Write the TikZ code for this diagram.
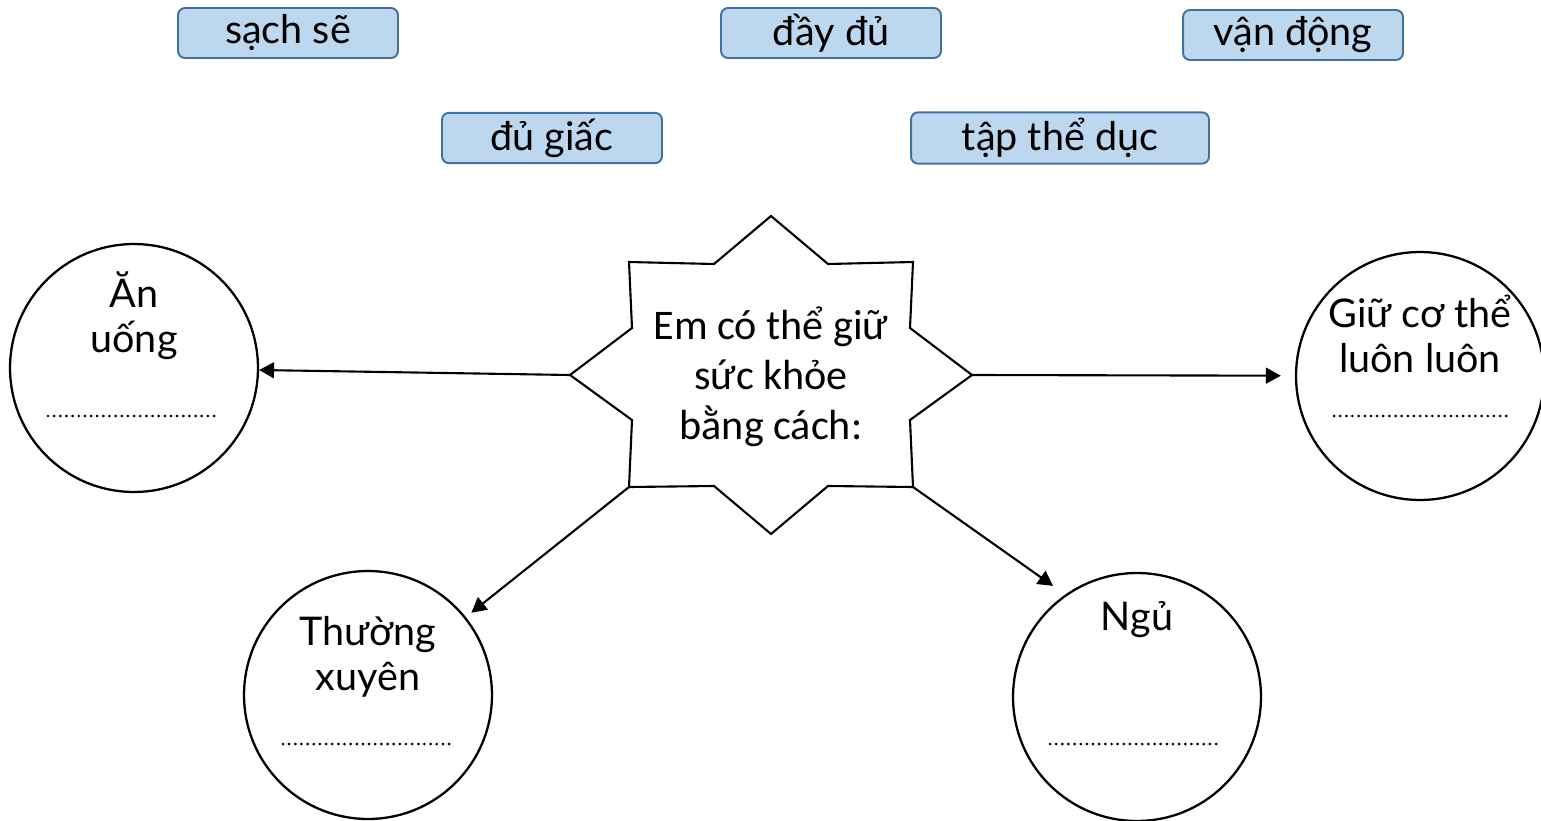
\documentclass[tikz,border=0pt]{standalone}
\usepackage{fontspec}
\setmainfont{Lato}
\newfontfamily\calibri{Carlito}
\usetikzlibrary{arrows.meta, positioning}
\definecolor{boxfill}{HTML}{BDD7EE}
\definecolor{boxline}{HTML}{41719C}

\begin{document}
\begin{tikzpicture}[x=0.02cm, y=-0.02cm, >={Triangle[length=8.5pt,width=9pt]},
      word/.style={draw=boxline, fill=boxfill, line width=1.1pt, rounded corners=4pt,
        minimum width=4.4cm, minimum height=1cm, font=\fontsize{22.5}{26}\selectfont},
      idea/.style={circle, draw, line width=1.3pt, minimum size=4.96cm},
      note/.style={align=center, font=\fontsize{22.5}{25.5}\selectfont},
      dots/.style={line width=1.7pt, line cap=round, dash pattern=on 0pt off 3.5pt}]
      \useasboundingbox (0,0) rectangle (1541,821);
      % word bank
      \node[word] (sach) at (288,33) {sạch sẽ};
      \node[word] (day)  at (831,33) {đầy đủ};
      \node[word] (van)  at (1293,35) {vận động};
      \node[word] (du)   at (552,138) {đủ giấc};
      \node[word, minimum width=5.96cm] (tap) at (1060,138) {tập thể dục};
      % star in the middle
      \coordinate (s_t) at (771,216);
      \coordinate (s_r) at (972,375);
      \coordinate (s_b) at (771,534);
      \coordinate (s_l) at (570,375);
      \coordinate (s_ur) at (913,262);
      \coordinate (s_lr) at (913,487);
      \coordinate (s_ll) at (629,487);
      \coordinate (s_ul) at (629,262);
      \draw[line width=1.2pt, line join=miter] (s_t) -- (828,264) -- (s_ur) -- (910,328) -- (s_r)
        -- (910,420) -- (s_lr) -- (828,486) -- (s_b) -- (714,486) -- (s_ll) -- (632,420)
        -- (s_l) -- (632,328) -- (s_ul) -- (714,264) -- cycle;
      \node[align=center, font=\calibri\fontsize{24}{28.4}\selectfont] (star) at (771,377)
        {Em có thể giữ\\sức khỏe\\bằng cách:};
      % the four circles
      \node[idea] (an)   at (134,368) {};
      \node[idea] (giu)  at (1420,376) {};
      \node[idea] (thuong) at (368,695) {};
      \node[idea] (ngu)  at (1137,697) {};
      \node[note] (an_t)  at (134,316) {Ăn\\uống};
      \node[note] (giu_t) at (1420,334) {Giữ cơ thể\\luôn luôn};
      \node[note] (thuong_t) at (368,657) {Thường\\xuyên};
      \node[note] (ngu_t) at (1137,620) {Ngủ};
      \draw[dots] (48,416) -- (219,416);
      \draw[dots] (1334,416) -- (1507,416);
      \draw[dots] (283,744) -- (454,744);
      \draw[dots] (1050,744) -- (1222,744);
      \path[->, line width=1.2pt]
      (s_l) edge (an)
      (s_r) edge [shorten >=8pt] (giu)
      (s_ll) edge [shorten >=4pt] (thuong)
      (s_lr) edge [shorten >=8.5pt] (ngu.125);
    \end{tikzpicture}
\end{document}
